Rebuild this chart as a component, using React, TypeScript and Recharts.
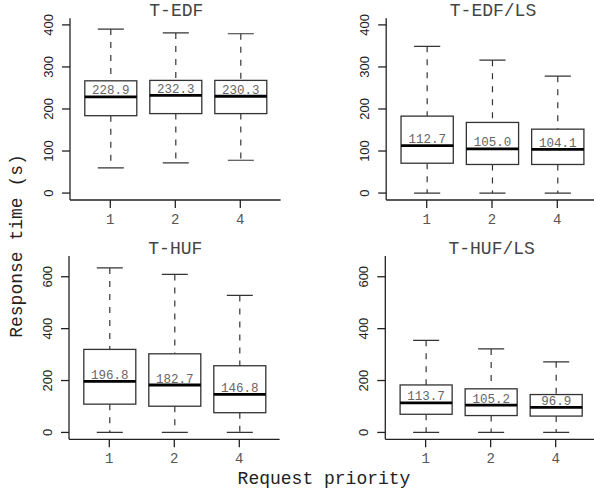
import React from "react";
import { ComposedChart, Bar, XAxis, YAxis } from "recharts";

const priorities = ["1", "2", "4"];

const tedfLow = [60, 72, 78];
const tedfQ1 = [184, 189, 189];
const tedfMedian = [228.9, 232.3, 230.3];
const tedfQ3 = [267, 268, 268];
const tedfHigh = [390, 381, 379];

const tedfLsLow = [0, 0, 0];
const tedfLsQ1 = [71, 68, 68];
const tedfLsMedian = [112.7, 105.0, 104.1];
const tedfLsQ3 = [183, 168, 152];
const tedfLsHigh = [349, 316, 278];

const thufLow = [0, 0, 0];
const thufQ1 = [109, 101, 76];
const thufMedian = [196.8, 182.7, 146.8];
const thufQ3 = [320, 303, 257];
const thufHigh = [634, 609, 528];

const thufLsLow = [0, 0, 0];
const thufLsQ1 = [70, 65, 63];
const thufLsMedian = [113.7, 105.2, 96.9];
const thufLsQ3 = [183, 168, 146];
const thufLsHigh = [355, 322, 272];

const topTicks = [0, 100, 200, 300, 400];
const bottomTicks = [0, 200, 400, 600];
const topDomain: [number, number] = [-16.5, 415.7];
const bottomDomain: [number, number] = [-26.5, 680];

const MONO = '"Liberation Mono", "Courier New", monospace';
const SANS = '"Liberation Sans", Arial, Helvetica, sans-serif';

function buildData(low: number[], q1: number[], med: number[], q3: number[], high: number[]) {
  return priorities.map((p, i) => ({
    name: p,
    range: [low[i], high[i]],
    low: low[i],
    q1: q1[i],
    median: med[i],
    q3: q3[i],
    high: high[i],
  }));
}

const BoxShape = (props: any) => {
  const { x, y, width, height, payload } = props;
  const top = Math.min(y, y + height);
  const bottom = Math.max(y, y + height);
  const lo = payload.low;
  const hi = payload.high;
  const toPx = (v: number) => bottom - ((v - lo) / (hi - lo)) * (bottom - top);
  const cx = x + width / 2;
  const pQ1 = toPx(payload.q1);
  const pQ3 = toPx(payload.q3);
  const pMed = toPx(payload.median);
  const capHalf = width / 4;
  const stroke = "#333";
  return (
    <g>
      <line x1={cx} x2={cx} y1={top} y2={pQ3} stroke={stroke} strokeWidth={1.2} strokeDasharray="6 7" />
      <line x1={cx} x2={cx} y1={pQ1} y2={bottom} stroke={stroke} strokeWidth={1.2} strokeDasharray="6 7" />
      <line x1={cx - capHalf} x2={cx + capHalf} y1={top} y2={top} stroke={stroke} strokeWidth={1.2} />
      <line x1={cx - capHalf} x2={cx + capHalf} y1={bottom} y2={bottom} stroke={stroke} strokeWidth={1.2} />
      <rect x={x} y={pQ3} width={width} height={pQ1 - pQ3} fill="#fff" stroke={stroke} strokeWidth={1.3} />
      <line x1={x} x2={x + width} y1={pMed} y2={pMed} stroke="#000" strokeWidth={2.8} />
      <text x={cx} y={pMed - 2.5} textAnchor="middle" fontFamily={MONO} fontSize={12.5} fill="#666">
        {payload.median.toFixed(1)}
      </text>
    </g>
  );
};

const renderXTick = (props: any) => {
  const { x, y, payload } = props;
  return (
    <g transform={`translate(${x}, ${y + 16})`}>
      <text x={0} y={0} textAnchor="middle" fontFamily={MONO} fontSize={14} fill="#555">
        {payload.value}
      </text>
    </g>
  );
};

const renderYTick = (props: any) => {
  const { x, y, payload } = props;
  const bx = x - 9;
  return (
    <g transform={`translate(${bx}, ${y}) rotate(-90)`}>
      <text x={0} y={0} textAnchor="middle" fontFamily={SANS} fontSize={13} fill="#222">
        {payload.value}
      </text>
    </g>
  );
};

const Y_W = 40;
const X_H = 30;

type PanelProps = {
  left: number;
  top: number;
  width: number;
  height: number;
  plot: { x0: number; x1: number; y0: number; y1: number };
  data: any[];
  domain: [number, number];
  ticks: number[];
};

function Panel({ left, top, width, height, plot, data, domain, ticks }: PanelProps) {
  const plotW = plot.x1 - plot.x0;
  const unit = plotW / 3.24;
  const pad = 0.12 * unit;
  const margin = {
    left: plot.x0 - left - Y_W,
    right: left + width - plot.x1,
    top: plot.y0 - top,
    bottom: top + height - plot.y1 - X_H,
  };
  const axisStroke = { stroke: "#222", strokeWidth: 1.3 };
  return (
    <div style={{ position: "absolute", left, top, width, height }}>
      <ComposedChart width={width} height={height} data={data} margin={margin}>
        <XAxis
          dataKey="name"
          type="category"
          height={X_H}
          padding={{ left: pad, right: pad }}
          tickSize={8}
          tickMargin={0}
          tick={renderXTick}
          tickLine={{ stroke: "#222", strokeWidth: 1.3 }}
          axisLine={axisStroke}
        />
        <XAxis xAxisId="top" dataKey="name" orientation="top" height={0} tick={false} tickLine={false} axisLine={axisStroke} />
        <YAxis
          type="number"
          domain={domain}
          ticks={ticks}
          allowDataOverflow
          width={Y_W}
          tickSize={8}
          tickMargin={0}
          tick={renderYTick}
          tickLine={{ stroke: "#222", strokeWidth: 1.3 }}
          axisLine={axisStroke}
        />
        <YAxis yAxisId="right" orientation="right" width={0} tick={false} tickLine={false} axisLine={axisStroke} />
        <Bar dataKey="range" barSize={0.8 * unit} shape={<BoxShape />} isAnimationActive={false} />
      </ComposedChart>
    </div>
  );
}

const panels = [
  { title: "T-EDF", left: 0, top: 0, width: 297, height: 245, plot: { x0: 70, x1: 280.6, y0: 18.3, y1: 200 }, data: buildData(tedfLow, tedfQ1, tedfMedian, tedfQ3, tedfHigh), domain: topDomain, ticks: topTicks },
  { title: "T-EDF/LS", left: 297, top: 0, width: 310, height: 245, plot: { x0: 386.2, x1: 597.8, y0: 18.3, y1: 200 }, data: buildData(tedfLsLow, tedfLsQ1, tedfLsMedian, tedfLsQ3, tedfLsHigh), domain: topDomain, ticks: topTicks },
  { title: "T-HUF", left: 0, top: 245, width: 297, height: 246, plot: { x0: 69, x1: 279.6, y0: 256, y1: 439.3 }, data: buildData(thufLow, thufQ1, thufMedian, thufQ3, thufHigh), domain: bottomDomain, ticks: bottomTicks },
  { title: "T-HUF/LS", left: 297, top: 245, width: 310, height: 246, plot: { x0: 385.3, x1: 596, y0: 256, y1: 439.3 }, data: buildData(thufLsLow, thufLsQ1, thufLsMedian, thufLsQ3, thufLsHigh), domain: bottomDomain, ticks: bottomTicks },
];

export default function App() {
  return (
    <div style={{ position: "absolute", left: 0, top: 0, width: 594, height: 491, overflow: "hidden", background: "#fff" }}>
      {panels.map((p) => (
        <Panel key={p.title} left={p.left} top={p.top} width={p.width} height={p.height} plot={p.plot} data={p.data} domain={p.domain} ticks={p.ticks} />
      ))}
      <svg width={594} height={491} style={{ position: "absolute", left: 0, top: 0, pointerEvents: "none" }}>
        {panels.map((p) => (
          <text key={p.title} x={(p.plot.x0 + p.plot.x1) / 2 + 1} y={p.plot.y0 - 2} textAnchor="middle" fontFamily={MONO} fontSize={18} fill="#444">
            {p.title}
          </text>
        ))}
        <g transform="translate(22, 246) rotate(-90)">
          <text x={0} y={0} textAnchor="middle" fontFamily={MONO} fontSize={18} fill="#222">
            Response time (s)
          </text>
        </g>
        <text x={324} y={484} textAnchor="middle" fontFamily={MONO} fontSize={18} fill="#222">
          Request priority
        </text>
      </svg>
    </div>
  );
}
